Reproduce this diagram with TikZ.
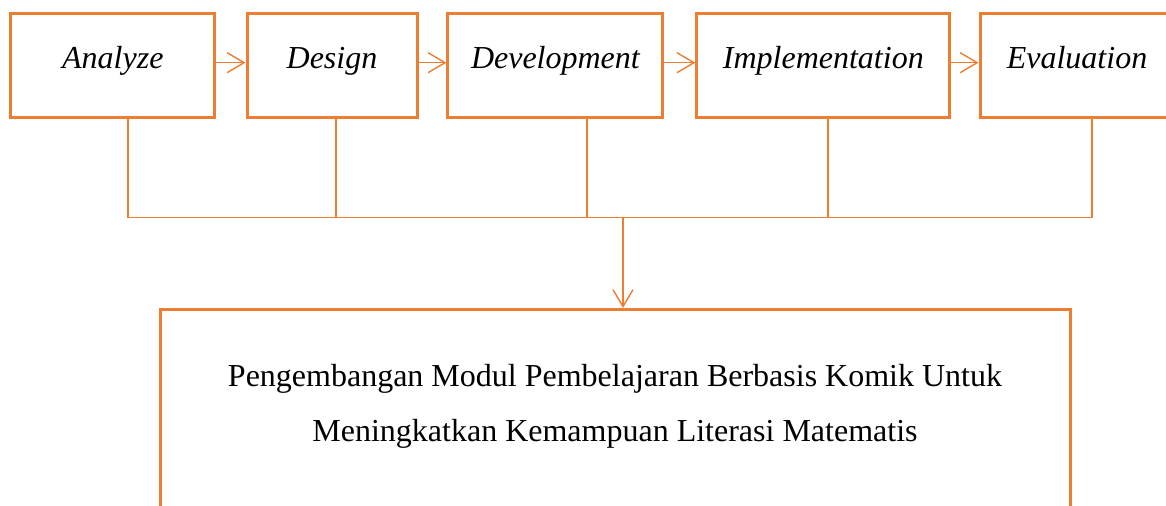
\documentclass[tikz,border=0pt]{standalone}
\usepackage{fontspec}
\setmainfont{Liberation Serif}
\usetikzlibrary{arrows.meta}
\definecolor{addieorange}{HTML}{ED7D31}
\tikzset{
  phasebox/.style={draw=addieorange,line width=1.5pt,minimum height=52pt,
    font=\fontsize{16pt}{19pt}\selectfont\itshape,text height=12pt,text depth=8.5pt},
  link/.style={draw=addieorange,line width=0.7pt},
  flow/.style={link,-{Straight Barb[length=8.5pt,width=10pt]}}
}
\begin{document}
\begin{tikzpicture}[x=0.5pt,y=-0.5pt]
  \useasboundingbox (0,0) rectangle (1166,506);
  \clip (0,0) rectangle (1166,506);
  \node[phasebox,minimum width=102pt] (ana) at (112.8,65.5) {Analyze};
  \node[phasebox,minimum width=85pt] (des) at (332,65.5) {Design};
  \node[phasebox,minimum width=107.5pt] (dev) at (555.4,65.5) {Development};
  \node[phasebox,minimum width=126.5pt] (imp) at (823.3,65.5) {Implementation};
  \node[phasebox,minimum width=97pt] (eva) at (1077,65.5) {Evaluation};
  \draw[flow] ([yshift=1.4pt]ana.east) -- ([yshift=1.4pt]des.west);
  \draw[flow] ([yshift=1.4pt]des.east) -- ([yshift=1.4pt]dev.west);
  \draw[flow] ([yshift=1.4pt]dev.east) -- ([yshift=1.4pt]imp.west);
  \draw[flow] ([yshift=1.4pt]imp.east) -- ([yshift=1.4pt]eva.west);
  \coordinate (jana) at (128,217.7);
  \coordinate (jdes) at (336,217.7);
  \coordinate (jdev) at (587,217.7);
  \coordinate (jimp) at (828,217.7);
  \coordinate (jeva) at (1092,217.7);
  \coordinate (jmod) at (623,217.7);
  \draw[link] (ana.south -| jana) -- (jana);
  \draw[link] (des.south -| jdes) -- (jdes);
  \draw[link] (dev.south -| jdev) -- (jdev);
  \draw[link] (imp.south -| jimp) -- (jimp);
  \draw[link] (eva.south -| jeva) -- (jeva);
  \draw[link] (jana) -- (jeva);
  \node[draw=addieorange,line width=1.5pt,minimum width=455pt,minimum height=130pt,
    anchor=north] (modbox) at (615,308) {};
  \draw[flow] (jmod) -- (jmod |- modbox.north);
  \node[align=center,anchor=base,font=\fontsize{16pt}{27.5pt}\selectfont] (modtitle)
    at (615,441.7) {Pengembangan Modul Pembelajaran Berbasis Komik Untuk\\
    Meningkatkan Kemampuan Literasi Matematis};
\end{tikzpicture}
\end{document}
